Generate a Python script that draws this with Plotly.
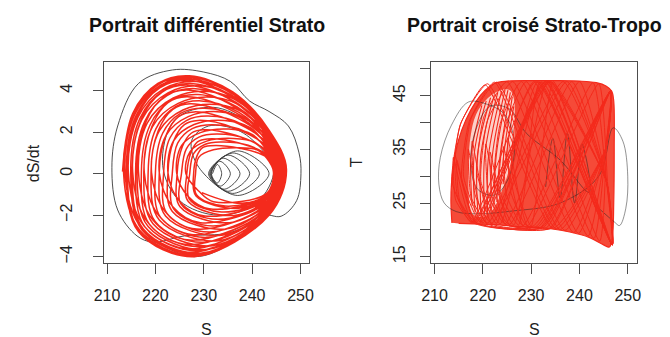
import plotly.graph_objects as go

# ---------------- data ----------------
# Left panel: phase portrait (S, dS/dt). Red attractor, one row per loop
strato_S_loops = [
    [213.2, 215.3, 220.5, 227.0, 236.0, 243.5, 247.1, 243.5, 228.0, 216.5],
    [214.0, 216.0, 221.0, 227.4, 236.2, 243.5, 247.0, 243.5, 228.4, 217.2],
    [214.9, 216.8, 221.7, 227.8, 236.4, 243.4, 246.8, 243.4, 228.8, 217.9],
    [215.9, 217.8, 222.4, 228.3, 236.6, 243.4, 246.6, 243.4, 229.3, 218.8],
    [217.1, 218.9, 223.2, 228.8, 236.9, 243.4, 246.4, 243.4, 229.8, 219.9],
    [218.5, 220.1, 224.2, 229.5, 237.2, 243.3, 246.2, 243.3, 230.5, 221.1],
    [220.0, 221.5, 225.2, 230.2, 237.6, 243.3, 245.9, 243.3, 231.2, 222.4],
    [221.7, 223.0, 226.4, 230.9, 238.0, 243.2, 245.6, 243.2, 231.9, 223.8],
    [223.5, 224.6, 227.6, 231.8, 238.4, 243.2, 245.3, 243.2, 232.8, 225.3],
    [225.4, 226.4, 229.0, 232.7, 238.8, 243.1, 244.9, 243.1, 233.7, 227.0],
    [227.1, 227.9, 230.2, 233.4, 239.2, 243.0, 244.6, 243.0, 234.4, 228.5],
    [228.3, 229.0, 232.0, 237.0, 241.0, 243.0, 244.4, 243.0, 232.0, 229.0],
    [226.3, 227.2, 230.6, 236.1, 240.6, 243.1, 244.8, 243.1, 231.1, 226.8],
    [224.4, 225.4, 229.3, 235.2, 240.1, 243.1, 245.1, 243.1, 230.2, 225.1],
    [222.6, 223.8, 228.0, 234.3, 239.7, 243.2, 245.4, 243.2, 229.3, 223.6],
    [220.8, 222.2, 226.8, 233.5, 239.3, 243.3, 245.8, 243.3, 228.5, 222.0],
    [219.2, 220.8, 225.7, 232.8, 238.9, 243.3, 246.0, 243.3, 227.8, 220.7],
    [217.7, 219.4, 224.7, 232.1, 238.6, 243.4, 246.3, 243.4, 227.1, 219.4],
    [216.5, 218.3, 223.7, 231.1, 238.1, 243.4, 246.5, 243.4, 226.9, 218.5],
    [215.3, 217.2, 222.6, 229.7, 237.3, 243.4, 246.7, 243.4, 227.3, 217.7],
    [214.4, 216.4, 221.7, 228.5, 236.8, 243.5, 246.9, 243.5, 227.6, 217.2],
    [213.7, 215.7, 220.9, 227.6, 236.3, 243.5, 247.0, 243.5, 227.8, 216.8],
    [213.4, 215.5, 220.6, 227.0, 235.9, 243.5, 247.1, 243.5, 228.3, 216.7],
    [214.2, 216.2, 220.9, 226.8, 235.7, 243.5, 246.9, 243.5, 229.3, 217.5],
    [215.2, 217.1, 221.4, 226.6, 235.4, 243.4, 246.8, 243.4, 230.5, 218.5],
    [216.2, 218.0, 221.8, 226.4, 235.1, 243.4, 246.6, 243.4, 231.8, 219.5],
    [217.6, 219.3, 222.6, 226.5, 235.0, 243.4, 246.3, 243.4, 233.0, 220.8],
    [219.1, 220.6, 223.6, 227.2, 235.4, 243.3, 246.1, 243.3, 233.7, 222.1],
    [220.8, 222.2, 224.8, 228.0, 235.8, 243.3, 245.8, 243.3, 234.5, 223.5],
    [222.6, 223.8, 226.0, 228.8, 236.2, 243.2, 245.4, 243.2, 235.3, 225.1],
    [224.5, 225.6, 227.4, 229.8, 236.6, 243.1, 245.1, 243.1, 236.3, 226.8],
    [226.5, 227.4, 228.7, 230.7, 237.1, 243.1, 244.7, 243.1, 237.2, 228.4],
    [227.9, 228.6, 229.7, 231.3, 237.4, 243.0, 244.5, 243.0, 237.8, 229.6],
]
strato_dS_loops = [
    [0.10, 2.90, 4.35, 4.72, 3.95, 2.10, 0.20, -2.00, -4.00, -2.80],
    [0.10, 2.80, 4.19, 4.55, 3.81, 2.03, 0.20, -1.95, -3.87, -2.70],
    [0.09, 2.67, 4.00, 4.34, 3.64, 1.95, 0.19, -1.88, -3.71, -2.59],
    [0.08, 2.52, 3.77, 4.10, 3.45, 1.86, 0.18, -1.81, -3.52, -2.45],
    [0.07, 2.35, 3.52, 3.82, 3.22, 1.75, 0.17, -1.73, -3.31, -2.29],
    [0.06, 2.16, 3.23, 3.51, 2.97, 1.63, 0.16, -1.63, -3.07, -2.12],
    [0.05, 1.95, 2.91, 3.16, 2.69, 1.49, 0.15, -1.53, -2.81, -1.92],
    [0.04, 1.72, 2.56, 2.78, 2.38, 1.34, 0.14, -1.41, -2.52, -1.71],
    [0.03, 1.47, 2.17, 2.36, 2.05, 1.18, 0.13, -1.29, -2.20, -1.47],
    [0.02, 1.20, 1.76, 1.91, 1.68, 1.01, 0.12, -1.15, -1.85, -1.22],
    [0.01, 0.97, 1.41, 1.53, 1.37, 0.86, 0.11, -1.03, -1.56, -1.01],
    [0.00, 0.80, 1.15, 1.25, 1.15, 0.75, 0.10, -0.95, -1.35, -0.85],
    [0.01, 1.07, 1.57, 1.70, 1.51, 0.93, 0.11, -1.09, -1.69, -1.10],
    [0.03, 1.35, 1.98, 2.15, 1.88, 1.10, 0.13, -1.22, -2.04, -1.36],
    [0.04, 1.60, 2.37, 2.57, 2.21, 1.26, 0.14, -1.35, -2.36, -1.59],
    [0.05, 1.85, 2.75, 2.98, 2.55, 1.42, 0.15, -1.47, -2.67, -1.82],
    [0.06, 2.06, 3.07, 3.33, 2.83, 1.56, 0.16, -1.58, -2.94, -2.02],
    [0.07, 2.27, 3.39, 3.68, 3.11, 1.69, 0.17, -1.68, -3.20, -2.21],
    [0.08, 2.44, 3.65, 3.96, 3.33, 1.80, 0.18, -1.77, -3.42, -2.37],
    [0.09, 2.61, 3.90, 4.23, 3.56, 1.91, 0.19, -1.85, -3.63, -2.53],
    [0.09, 2.73, 4.09, 4.44, 3.73, 1.99, 0.19, -1.92, -3.79, -2.64],
    [0.10, 2.84, 4.25, 4.62, 3.87, 2.06, 0.20, -1.97, -3.92, -2.74],
    [0.10, 2.87, 4.30, 4.67, 3.91, 2.08, 0.20, -1.98, -3.96, -2.77],
    [0.09, 2.76, 4.14, 4.49, 3.77, 2.01, 0.19, -1.93, -3.83, -2.67],
    [0.09, 2.63, 3.93, 4.27, 3.59, 1.92, 0.19, -1.86, -3.66, -2.55],
    [0.08, 2.48, 3.71, 4.03, 3.39, 1.83, 0.18, -1.79, -3.47, -2.41],
    [0.07, 2.29, 3.42, 3.71, 3.14, 1.71, 0.17, -1.70, -3.23, -2.23],
    [0.06, 2.08, 3.10, 3.37, 2.86, 1.57, 0.16, -1.59, -2.97, -2.04],
    [0.05, 1.85, 2.75, 2.98, 2.55, 1.42, 0.15, -1.47, -2.67, -1.82],
    [0.04, 1.60, 2.37, 2.57, 2.21, 1.26, 0.14, -1.35, -2.36, -1.59],
    [0.02, 1.32, 1.95, 2.12, 1.85, 1.09, 0.12, -1.21, -2.01, -1.34],
    [0.01, 1.05, 1.53, 1.67, 1.49, 0.91, 0.11, -1.08, -1.67, -1.08],
    [0.00, 0.86, 1.25, 1.35, 1.23, 0.79, 0.10, -0.98, -1.43, -0.91],
]
# Left panel: black transient (start of the run)
transient_S = [
    231.8, 232.8, 233.7, 232.8, 231.6, 233.3, 235.5, 233.4, 231.5, 234.0, 237.5, 234.2,
    231.4, 235.0, 239.5, 235.0, 231.2, 236.0, 241.5, 236.0, 231.0, 237.0, 243.5, 237.0,
    229.0, 227.5, 231.0, 237.0, 241.5, 244.5, 241.0, 233.0, 225.0, 221.5, 224.0, 232.0,
    239.5, 245.5, 244.0, 236.0, 226.0, 219.5, 216.2, 212.2, 211.0, 212.2, 216.5, 223.5,
    230.0, 235.5, 239.5, 243.5, 247.5, 249.7, 250.1, 249.2, 246.0, 242.0, 236.0, 228.0,
    216.5,
]
transient_dS = [
    0.0, 0.45, 0.0, -0.45, 0.0, 0.6, 0.0, -0.6, 0.0, 0.75, 0.0, -0.75,
    0.0, 0.9, 0.0, -0.85, 0.0, 1.0, 0.0, -0.95, 0.0, 1.1, 0.0, -1.05,
    0.3, 1.6, 2.3, 2.1, 1.3, 0.2, -1.4, -2.0, -1.3, 0.4, 2.6, 3.2,
    2.4, 0.6, -1.6, -2.8, -3.0, -3.3, -3.0, -1.75, 0.3, 2.3, 4.35, 5.0,
    4.9, 4.45, 3.5, 3.0, 2.3, 1.0, 0.0, -1.3, -2.05, -2.0, -3.3, -4.0,
    -2.8,
]

# Right panel: cross portrait (S, T)
# outline of the dense red region
cross_outline_S = [213.6, 213.4, 213.5, 214.0, 214.9, 216.5, 218.5, 220.5, 222.5, 225.0,
                   230.0, 235.0, 240.0, 243.5, 245.5, 246.7, 247.1, 247.2, 247.1, 246.8,
                   246.2, 245.0, 242.0, 238.0, 234.0, 230.0, 226.0, 222.0, 218.0, 215.0]
cross_outline_T = [21.3, 25.0, 28.5, 32.5, 36.5, 40.5, 43.8, 46.0, 47.3, 47.7,
                   47.8, 47.8, 47.7, 47.4, 46.8, 45.8, 44.0, 35.0, 25.0, 18.5,
                   16.8, 17.2, 18.6, 19.6, 20.2, 20.5, 20.7, 21.0, 21.1, 21.2]
# outline of the lighter hatched oval on the left
hatch_outline_S = [217.2, 217.0, 217.4, 218.6, 221.0, 223.6, 225.6, 226.4, 226.6, 226.3,
                   225.2, 224.0, 222.6, 221.0, 219.0, 217.8]
hatch_outline_T = [24.0, 30.0, 37.0, 41.5, 44.5, 46.0, 46.0, 44.5, 40.0, 35.0,
                   30.5, 27.4, 24.5, 22.8, 22.4, 23.0]
# red arcs crossing the hatched oval (bottom, middle, top of each arc)
hatch_arcs_S = [
    [217.8, 217.6, 219.8], [218.4, 218.2, 220.7], [219.0, 218.9, 221.6],
    [219.7, 219.6, 222.4], [220.4, 220.4, 223.1], [221.0, 221.2, 223.9],
    [221.7, 222.0, 224.6], [222.3, 222.8, 225.2], [222.9, 223.6, 225.7],
    [223.5, 224.4, 226.1], [224.2, 225.1, 226.4],
]
hatch_arcs_T = [
    [24.5, 34.0, 43.2], [23.4, 34.0, 44.0], [22.9, 34.0, 44.6],
    [22.6, 34.0, 45.2], [22.6, 34.0, 45.6], [22.8, 34.0, 45.9],
    [23.3, 34.0, 46.0], [24.0, 34.0, 46.0], [25.2, 34.0, 45.6],
    [26.8, 34.5, 44.8], [28.5, 35.5, 43.0],
]
# trajectory strokes, one row per loop
cross_S_loops = [
    [213.5, 215.3, 220.5, 234.5, 245.4, 246.5, 232.5, 218.5],
    [214.2, 214.8, 218.2, 233.2, 245.6, 246.8, 232.8, 219.6],
    [215.6, 217.2, 222.4, 236.0, 245.4, 246.5, 233.8, 220.6],
    [217.0, 217.6, 221.0, 236.6, 245.6, 246.8, 231.4, 222.8],
    [218.8, 220.2, 225.0, 238.8, 245.4, 246.5, 231.0, 224.6],
    [220.6, 221.2, 224.6, 238.4, 245.6, 246.8, 233.4, 226.4],
    [222.4, 223.6, 228.0, 241.8, 245.4, 246.5, 232.0, 228.3],
    [224.3, 224.9, 228.3, 242.8, 245.6, 246.8, 234.6, 230.0],
    [226.0, 226.8, 230.6, 244.2, 245.6, 246.5, 233.2, 229.2],
    [225.2, 225.8, 229.2, 244.0, 245.8, 246.8, 231.8, 227.4],
    [223.4, 224.6, 229.0, 243.0, 245.4, 246.5, 234.2, 225.5],
    [221.5, 222.1, 225.5, 240.0, 245.6, 246.8, 232.2, 223.6],
    [219.6, 221.0, 226.2, 239.8, 245.4, 246.5, 231.5, 221.8],
    [217.8, 218.4, 221.8, 237.4, 245.6, 246.8, 233.0, 220.0],
    [216.0, 217.6, 222.9, 237.0, 245.4, 246.5, 230.4, 218.6],
    [214.6, 215.2, 218.6, 234.0, 245.6, 246.8, 231.0, 217.6],
    [213.6, 215.5, 221.0, 235.2, 245.4, 246.5, 232.2, 217.9],
    [213.9, 214.4, 217.9, 233.6, 245.6, 246.8, 234.0, 219.5],
]
cross_T_loops = [
    [28.0, 39.5, 47.0, 20.3, 35.0, 45.9, 20.45, 21.4],
    [34.0, 26.0, 21.4, 47.6, 29.0, 17.2, 47.6, 21.4],
    [29.5, 40.2, 47.5, 20.05, 35.0, 45.9, 20.3, 21.3],
    [35.0, 26.0, 21.3, 47.6, 29.0, 17.2, 47.6, 21.2],
    [30.5, 41.0, 47.6, 19.5, 35.0, 45.9, 20.6, 21.1],
    [36.0, 26.5, 21.1, 47.6, 29.0, 17.2, 47.6, 20.9],
    [29.0, 39.8, 47.6, 18.85, 35.0, 45.9, 20.5, 20.8],
    [35.5, 26.5, 20.8, 47.4, 29.0, 17.2, 47.6, 20.7],
    [31.0, 40.5, 47.6, 17.9, 35.0, 45.9, 20.4, 20.8],
    [37.0, 27.0, 20.75, 47.2, 29.0, 17.2, 47.6, 20.9],
    [27.5, 39.0, 47.6, 18.4, 35.0, 45.9, 20.3, 21.0],
    [34.5, 25.5, 21.0, 47.6, 29.0, 17.2, 47.6, 21.1],
    [29.0, 40.5, 47.6, 19.35, 35.0, 45.9, 20.6, 21.2],
    [36.5, 26.5, 21.2, 47.6, 29.0, 17.2, 47.6, 21.3],
    [30.0, 40.8, 47.5, 19.9, 35.0, 45.9, 20.7, 21.4],
    [33.0, 25.5, 21.4, 47.6, 29.0, 17.2, 47.6, 21.4],
    [29.0, 40.0, 47.2, 20.2, 35.0, 45.9, 20.5, 21.4],
    [33.5, 25.5, 21.4, 47.6, 29.0, 17.2, 47.6, 21.4],
]
# Right panel: black transient
cross_transient_S = [
    233.0, 234.5, 236.0, 237.5, 239.0, 240.5, 242.0, 236.0, 229.0, 225.5, 221.5, 218.5,
    217.5, 219.0, 222.5, 225.5, 226.5, 224.5, 220.5, 217.0, 213.5, 211.2, 210.9, 212.0,
    214.5, 219.0, 226.0, 236.0, 244.0, 247.0, 249.0, 250.0, 249.6, 248.3, 247.2, 244.0,
]
cross_transient_T = [
    28.0, 37.0, 26.0, 38.0, 25.0, 36.0, 27.0, 33.0, 38.0, 42.5, 43.0, 38.5,
    32.0, 27.5, 26.5, 30.0, 36.5, 41.5, 43.5, 43.8, 39.5, 33.5, 28.5, 25.0,
    23.4, 23.0, 23.5, 25.0, 30.0, 39.0, 36.5, 30.0, 24.0, 20.8, 21.5, 24.0,
]

S_ticks = [210, 220, 230, 240, 250]
dS_ticks = [-4, -2, 0, 2, 4]
T_ticks = [15, 20, 25, 30, 35, 40, 45, 50]
T_ticktext = ["15", "", "25", "", "35", "", "45", ""]

titles = ["Portrait différentiel Strato", "Portrait croisé Strato-Tropo"]
x_labels = ["S", "S"]
y_labels = ["dS/dt", "T"]


def flat(rows):
    return [v for row in rows for v in row]


def with_gaps(rows):
    out = []
    for row in rows:
        out.extend(row)
        out.append(None)
    return out


RED = "#f42a1c"
RED_FILL = "#f54a38"
HATCH_FILL = "#fcd0c8"
BLACK = "#3a3a3a"
BLACK_SOFT = "rgba(35,35,35,0.55)"
FONT = "Liberation Sans, Arial, Helvetica, sans-serif"

fig = go.Figure()
# left panel
fig.add_trace(go.Scatter(x=transient_S, y=transient_dS, mode="lines",
                         line=dict(color=BLACK, width=0.9, shape="spline"),
                         xaxis="x", yaxis="y", hoverinfo="skip"))
fig.add_trace(go.Scatter(x=flat(strato_S_loops), y=flat(strato_dS_loops), mode="lines",
                         line=dict(color=RED, width=1.5, shape="spline"),
                         xaxis="x", yaxis="y", hoverinfo="skip"))
# right panel
fig.add_trace(go.Scatter(x=cross_outline_S, y=cross_outline_T, mode="lines", fill="toself",
                         fillcolor=RED_FILL, line=dict(color=RED, width=1.2, shape="spline"),
                         xaxis="x2", yaxis="y2", hoverinfo="skip"))
fig.add_trace(go.Scatter(x=hatch_outline_S, y=hatch_outline_T, mode="lines", fill="toself",
                         fillcolor=HATCH_FILL, line=dict(width=0, shape="spline"),
                         xaxis="x2", yaxis="y2", hoverinfo="skip"))
fig.add_trace(go.Scatter(x=with_gaps(hatch_arcs_S), y=with_gaps(hatch_arcs_T), mode="lines",
                         connectgaps=False,
                         line=dict(color=RED, width=1.1, shape="spline"),
                         xaxis="x2", yaxis="y2", hoverinfo="skip"))
fig.add_trace(go.Scatter(x=cross_transient_S, y=cross_transient_T, mode="lines",
                         line=dict(color=BLACK_SOFT, width=0.9, shape="spline"),
                         xaxis="x2", yaxis="y2", hoverinfo="skip"))
fig.add_trace(go.Scatter(x=flat(cross_S_loops), y=flat(cross_T_loops), mode="lines",
                         line=dict(color=RED, width=1.0, shape="spline", smoothing=0.5),
                         xaxis="x2", yaxis="y2", hoverinfo="skip"))

axis_common = dict(showgrid=False, zeroline=False, showline=True, mirror=True,
                   linecolor="#4d4d4d", linewidth=1, ticks="outside", ticklen=10,
                   tickwidth=1, tickcolor="#4d4d4d",
                   tickfont=dict(family=FONT, size=16, color="#222"))

ydom = [0.2187, 0.8151]
fig.update_layout(
    width=670, height=337,
    margin=dict(l=0, r=0, t=0, b=0),
    paper_bgcolor="white", plot_bgcolor="white",
    showlegend=False,
    xaxis=dict(axis_common, domain=[0.1428, 0.4552], range=[209.45, 251.7],
               tickvals=S_ticks, anchor="y", ticklabelstandoff=8),
    yaxis=dict(axis_common, domain=ydom, range=[-4.32, 5.37],
               tickvals=dS_ticks, tickangle=-90, anchor="x", ticklabelstandoff=15),
    xaxis2=dict(axis_common, domain=[0.6428, 0.9578], range=[209.35, 252.0],
                tickvals=S_ticks, anchor="y2", ticklabelstandoff=8),
    yaxis2=dict(axis_common, domain=ydom, range=[13.77, 51.2],
                tickvals=T_ticks, ticktext=T_ticktext, tickangle=-90, anchor="x2",
                ticklabelstandoff=9),
)

centers = [(0.1428 + 0.4552) / 2, (0.6428 + 0.9578) / 2]
ylab_x = [23 / 670, 354 / 670]
ann = []
for i in range(2):
    ann.append(dict(text=titles[i], x=centers[i], y=1 - 25 / 337, xref="paper", yref="paper",
                    xanchor="center", yanchor="middle", showarrow=False,
                    font=dict(family=FONT, size=19.5, color="#111", weight="bold")))
    ann.append(dict(text=x_labels[i], x=centers[i], y=1 - 329 / 337, xref="paper", yref="paper",
                    xanchor="center", yanchor="middle", showarrow=False,
                    font=dict(family=FONT, size=16, color="#222")))
    ann.append(dict(text=y_labels[i], x=ylab_x[i], y=sum(ydom) / 2, xref="paper", yref="paper",
                    xanchor="center", yanchor="middle", showarrow=False, textangle=-90,
                    font=dict(family=FONT, size=16, color="#222")))
fig.update_layout(annotations=ann)

fig.write_html("out.html", config={"displayModeBar": False},
               post_script="document.body.style.margin='0px';document.body.style.overflow='hidden';")
